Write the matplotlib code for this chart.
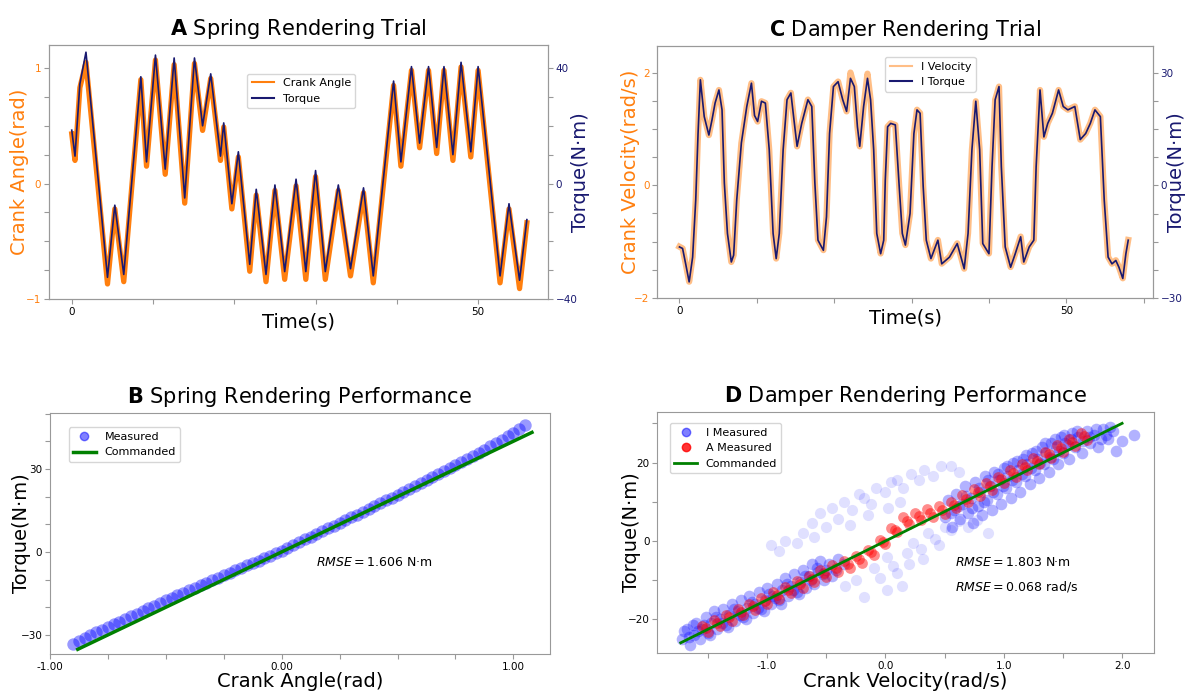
import matplotlib
matplotlib.use('Agg')
import matplotlib.pyplot as plt
from matplotlib.ticker import FixedLocator, MultipleLocator, FormatStrFormatter
from matplotlib.lines import Line2D

# ---- A: spring rendering trial (peaks / troughs) ----
time_a = [0.0, 0.4, 1.0, 1.75, 4.4, 5.3, 6.4, 8.5, 9.2, 10.3, 11.5, 12.6, 13.9, 15.1,
          16.1, 17.1, 18.3, 18.7, 19.7, 20.5, 21.9, 22.7, 23.9, 25.0, 26.2, 27.6, 28.8,
          30.0, 31.2, 32.8, 34.3, 35.9, 37.1, 39.6, 40.5, 41.8, 42.8, 43.9, 44.9, 45.8,
          46.9, 47.9, 49.1, 50.0, 52.7, 53.8, 55.1, 56.0]
angle_a = [0.43, 0.20, 0.83, 1.05, -0.87, -0.22, -0.85, 0.90, 0.15, 1.07, 0.08, 1.03, -0.17,
           1.04, 0.46, 0.91, 0.20, 0.49, -0.22, 0.23, -0.76, -0.10, -0.85, -0.06, -0.83,
           -0.02, -0.83, 0.06, -0.83, -0.06, -0.80, -0.08, -0.86, 0.85, 0.15, 0.98, 0.31,
           0.98, 0.26, 0.98, 0.20, 1.01, 0.23, 0.98, -0.86, -0.22, -0.91, -0.34]
torque_a = [18.5, 9.5, 34.5, 45.5, -32.5, -7.5, -31.5, 37.0, 7.5, 44.5, 5.0, 43.5, -5.0,
            43.5, 20.0, 38.0, 9.5, 21.0, -7.0, 11.0, -28.0, -2.0, -31.5, -0.5, -30.5,
            1.5, -30.5, 4.5, -30.5, -0.5, -29.5, -1.5, -32.0, 35.5, 7.5, 40.5, 14.0,
            40.5, 12.5, 40.5, 10.0, 42.0, 11.0, 40.5, -32.0, -7.0, -33.5, -12.5]

# ---- C: damper rendering trial ----
time_c = [0.0, 0.4, 0.8, 1.25, 1.7, 2.1, 2.4, 2.7, 3.2, 3.8,
          4.2, 4.6, 5.1, 5.5, 5.8, 6.2, 6.7, 7.0, 7.4, 8.0,
          8.7, 9.3, 9.7, 10.1, 10.6, 11.1, 11.6, 12.1, 12.5, 12.9,
          13.4, 13.9, 14.4, 14.8, 15.2, 15.8, 16.6, 17.1, 17.5, 17.9,
          18.6, 19.0, 19.4, 19.9, 20.5, 21.1, 21.6, 22.1, 22.6, 23.0,
          23.3, 23.8, 24.3, 24.7, 25.1, 25.5, 26.0, 26.4, 26.6, 26.9,
          27.3, 27.9, 28.4, 28.8, 29.2, 29.8, 30.3, 30.7, 31.1, 31.5,
          31.9, 32.5, 33.4, 33.9, 34.9, 35.9, 36.8, 37.3, 37.8, 38.3,
          38.8, 39.2, 40.0, 40.4, 40.8, 41.3, 41.6, 42.1, 42.8, 43.4,
          44.1, 44.5, 45.2, 45.8, 46.1, 46.6, 47.1, 47.6, 48.2, 49.0,
          49.6, 50.2, 51.1, 51.8, 52.5, 53.1, 53.7, 54.4, 54.9, 55.4,
          55.9, 56.4, 56.8, 57.3, 57.7, 58.0]
vel_c = [-1.09, -1.12, -1.39, -1.71, -1.27, -0.26, 0.92, 1.87, 1.22, 0.89,
         1.16, 1.46, 1.69, 1.34, 0.04, -0.85, -1.36, -1.24, -0.26, 0.75,
         1.40, 1.81, 1.24, 1.13, 1.49, 1.46, 0.63, -0.85, -1.30, -0.85,
         0.63, 1.52, 1.64, 1.16, 0.69, 1.10, 1.52, 1.40, 0.04, -0.97,
         -1.15, -0.56, 0.92, 1.75, 1.84, 1.52, 1.31, 2.00, 1.75, 1.04,
         0.69, 1.40, 1.98, 1.52, 0.63, -0.85, -1.21, -0.97, 0.09, 1.04,
         1.10, 1.07, -0.02, -0.85, -1.06, -0.50, 0.92, 1.34, 1.28, -0.02,
         -0.97, -1.30, -0.97, -1.39, -1.27, -1.03, -1.48, -0.85, 0.63, 1.49,
         0.63, -1.03, -1.21, 0.33, 1.52, 1.75, 0.33, -1.09, -1.45, -1.21,
         -0.91, -1.36, -1.09, -0.97, 0.33, 1.69, 0.86, 1.10, 1.28, 1.69,
         1.40, 1.34, 1.40, 0.81, 0.92, 1.10, 1.34, 1.22, -0.26, -1.27,
         -1.39, -1.33, -1.45, -1.65, -1.21, -0.97]
torque_c = [-16.4, -16.8, -20.9, -25.7, -19.1, -3.9, 13.8, 28.1, 18.3, 13.4,
            17.4, 21.9, 25.4, 20.1, 0.6, -12.8, -20.4, -18.6, -3.9, 11.3,
            21.0, 27.2, 18.6, 17.0, 22.4, 21.9, 9.5, -12.8, -19.5, -12.8,
            9.5, 22.8, 24.6, 17.4, 10.4, 16.5, 22.8, 21.0, 0.6, -14.6,
            -17.3, -8.4, 13.8, 26.3, 27.6, 22.8, 19.7, 28.5, 26.3, 15.6,
            10.4, 21.0, 28.5, 22.8, 9.5, -12.8, -18.2, -14.6, 1.4, 15.6,
            16.5, 16.1, -0.3, -12.8, -15.9, -7.5, 13.8, 20.1, 19.2, -0.3,
            -14.6, -19.5, -14.6, -20.9, -19.1, -15.5, -22.2, -12.8, 9.5, 22.4,
            9.5, -15.5, -18.2, 5.0, 22.8, 26.3, 5.0, -16.4, -21.8, -18.2,
            -13.7, -20.4, -16.4, -14.6, 5.0, 25.4, 12.9, 16.5, 19.2, 25.4,
            21.0, 20.1, 21.0, 12.2, 13.8, 16.5, 20.1, 18.3, -3.9, -19.1,
            -20.9, -20.0, -21.8, -24.8, -18.2, -14.6]

# ---- B: spring performance (measured cloud + commanded line) ----
angle_b = [-0.900, -0.875, -0.850, -0.825, -0.800, -0.775, -0.750, -0.725, -0.700, -0.675,
           -0.650, -0.625, -0.600, -0.575, -0.550, -0.525, -0.500, -0.475, -0.450, -0.425,
           -0.400, -0.375, -0.350, -0.325, -0.300, -0.275, -0.250, -0.225, -0.200, -0.175,
           -0.150, -0.125, -0.100, -0.075, -0.050, -0.025, 0.000, 0.025, 0.050, 0.075,
           0.100, 0.125, 0.150, 0.175, 0.200, 0.225, 0.250, 0.275, 0.300, 0.325,
           0.350, 0.375, 0.400, 0.425, 0.450, 0.475, 0.500, 0.525, 0.550, 0.575,
           0.600, 0.625, 0.650, 0.675, 0.700, 0.725, 0.750, 0.775, 0.800, 0.825,
           0.850, 0.875, 0.900, 0.925, 0.950, 0.975, 1.000, 1.025, 1.050]
torque_b = [-33.2, -32.2, -31.1, -30.1, -29.1, -28.1, -27.1, -26.2, -25.2, -24.2,
            -23.2, -22.3, -21.3, -20.3, -19.4, -18.4, -17.5, -16.6, -15.7, -14.8,
            -13.9, -13.0, -12.1, -11.2, -10.3, -9.4, -8.5, -7.6, -6.7, -5.8,
            -4.9, -4.0, -3.1, -2.2, -1.3, -0.4, 0.5, 1.5, 2.5, 3.5,
            4.5, 5.5, 6.5, 7.5, 8.5, 9.5, 10.5, 11.5, 12.5, 13.5,
            14.5, 15.5, 16.5, 17.5, 18.6, 19.6, 20.7, 21.7, 22.8, 23.8,
            24.9, 25.9, 27.0, 28.0, 29.1, 30.2, 31.3, 32.4, 33.5, 34.6,
            35.7, 36.9, 38.1, 39.3, 40.5, 41.8, 43.1, 44.5, 46.0]
cmd_angle_b = [-0.88, 1.08]
cmd_torque_b = [-35.2, 43.2]

# ---- D: damper performance ----
# I measured: the two dense bands along the commanded line
i_band = [
    (-1.72, -25.0), (-1.68, -22.5), (-1.65, -26.5), (-1.62, -24.0), (-1.60, -21.0),
    (-1.57, -25.0), (-1.55, -22.5), (-1.52, -19.5), (-1.50, -23.5), (-1.47, -21.0),
    (-1.45, -18.0), (-1.42, -22.5), (-1.40, -20.0), (-1.37, -17.5), (-1.35, -21.5),
    (-1.32, -19.0), (-1.30, -16.0), (-1.27, -20.5), (-1.25, -18.0), (-1.22, -15.0),
    (-1.20, -19.5), (-1.17, -17.0), (-1.15, -14.0), (-1.12, -18.5), (-1.10, -16.0),
    (-1.07, -13.0), (-1.05, -17.5), (-1.02, -15.0), (-1.00, -12.0), (-0.97, -16.0),
    (-0.95, -14.0), (-0.92, -11.0), (-0.90, -15.0), (-0.87, -12.5), (-0.85, -9.5),
    (-0.82, -14.0), (-0.80, -11.5), (-0.77, -8.5), (-0.75, -13.0), (-0.72, -10.5),
    (-0.70, -7.5), (-0.67, -12.0), (-0.65, -9.0), (-0.62, -6.0), (-0.60, -11.0),
    (-0.57, -8.0), (-0.55, -5.0), (-0.52, -10.0), (-0.50, -7.5),
    (-1.70, -23.0), (-1.66, -24.5), (-1.63, -21.5), (-1.58, -23.0), (-1.53, -21.5),
    (-1.48, -24.0), (-1.43, -19.5), (-1.38, -21.0), (-1.33, -22.0), (-1.28, -17.5),
    (-1.23, -19.0), (-1.18, -20.0), (-1.13, -15.5), (-1.08, -17.0), (-1.03, -18.0),
    (-0.98, -13.5), (-0.93, -14.5), (-0.88, -16.0), (-0.83, -11.0), (-0.78, -12.5),
    (-0.73, -13.5), (-0.68, -9.0), (-0.63, -10.0), (-0.58, -7.0), (-0.53, -8.5),
    (-0.48, -6.0), (-0.45, -9.0), (-0.40, -4.5), (-0.42, -7.5), (-0.35, -6.0),
    (0.50, 6.0), (0.53, 10.5), (0.56, 3.5), (0.58, 8.0), (0.60, 12.0), (0.63, 5.5),
    (0.65, 9.5), (0.67, 14.0), (0.70, 7.0), (0.72, 11.0), (0.74, 4.5), (0.76, 15.0),
    (0.78, 9.0), (0.80, 12.5), (0.82, 6.5), (0.84, 16.5), (0.86, 10.5), (0.88, 14.0),
    (0.90, 8.0), (0.92, 17.5), (0.94, 12.0), (0.96, 15.5), (0.98, 9.5), (1.00, 18.5),
    (1.02, 13.5), (1.04, 16.5), (1.06, 11.0), (1.08, 20.0), (1.10, 15.0), (1.12, 18.0),
    (1.14, 12.5), (1.16, 21.0), (1.18, 16.5), (1.20, 19.5), (1.22, 14.5), (1.24, 22.5),
    (1.26, 18.0), (1.28, 21.0), (1.30, 16.0), (1.32, 24.0), (1.34, 19.5), (1.36, 22.5),
    (1.38, 17.5), (1.40, 25.0), (1.42, 21.0), (1.44, 24.0), (1.46, 19.5), (1.48, 26.5),
    (1.50, 22.5), (1.52, 25.0), (1.55, 21.0), (1.58, 27.5), (1.60, 24.0), (1.63, 26.5),
    (1.66, 22.5), (1.70, 28.0), (1.73, 25.0), (1.76, 27.0), (1.80, 24.0), (1.84, 28.5),
    (1.88, 26.0), (1.92, 28.0), (2.00, 25.5), (2.10, 27.0), (1.95, 23.0),
    (0.55, 7.0), (0.62, 9.0), (0.68, 11.5), (0.73, 8.5), (0.79, 13.5), (0.83, 10.0),
    (0.87, 15.5), (0.91, 12.5), (0.95, 17.0), (0.99, 14.0), (1.03, 19.0), (1.07, 15.5),
    (1.11, 20.5), (1.15, 17.0), (1.19, 22.0), (1.23, 18.5), (1.27, 23.0), (1.31, 20.0),
    (1.35, 25.0), (1.39, 21.5), (1.43, 26.0), (1.47, 23.0), (1.51, 27.0), (1.54, 24.5),
    (1.57, 26.0), (1.62, 28.0), (1.67, 25.5), (1.72, 26.5), (1.78, 28.5), (1.86, 27.0),
    (1.90, 29.0), (1.82, 26.0),
]
# I measured: faint hysteresis loops round the middle
i_loop = [
    (-0.97, -1.0), (-0.90, -2.5), (-0.85, 0.0), (-0.75, -0.5), (-0.70, 2.0), (-0.62, 4.5),
    (-0.55, 7.0), (-0.50, 3.5), (-0.45, 8.5), (-0.40, 5.5), (-0.35, 10.0), (-0.28, 8.0),
    (-0.22, 12.0), (-0.18, 11.0), (-0.12, 9.5), (-0.08, 13.5), (0.00, 12.5), (0.05, 15.0),
    (0.10, 15.5), (0.15, 13.5), (0.22, 17.0), (0.28, 15.5), (0.33, 18.0), (0.40, 16.5),
    (0.47, 19.0), (0.55, 19.0), (0.62, 17.5), (-0.60, 1.0), (-0.30, 4.0), (-0.15, 6.5),
    (0.02, 8.5), (0.12, 10.0),
    (0.01, -4.0), (0.06, -6.5), (0.10, -8.2), (0.14, -11.6), (0.01, -12.5), (-0.05, -9.5),
    (0.18, -3.0), (0.23, -0.6), (0.30, -2.0), (0.36, 2.0), (0.42, 0.5), (0.50, 3.5),
    (0.55, 2.8), (0.62, 5.0), (0.70, 3.5), (0.77, 5.3), (0.87, 2.0), (-0.18, -14.2),
    (-0.25, -10.0), (-0.34, -11.6), (-0.10, -7.0), (0.20, -6.0), (0.32, -4.5), (0.45, -1.0),
]
a_vel = [-1.55, -1.50, -1.45, -1.40, -1.35, -1.30, -1.25, -1.20, -1.15, -1.10,
         -1.05, -1.00, -0.95, -0.90, -0.85, -0.80, -0.75, -0.70, -0.65, -0.60,
         -0.55, -0.50, -0.45, -0.40, -0.35, -0.30, -0.25, -0.20, -0.15, -0.10,
         -0.05, 0.00, 0.05, 0.10, 0.15, 0.20, 0.25, 0.30, 0.35, 0.40,
         0.45, 0.50, 0.55, 0.60, 0.65, 0.70, 0.75, 0.80, 0.85, 0.90,
         0.95, 1.00, 1.05, 1.10, 1.15, 1.20, 1.25, 1.30, 1.35, 1.40,
         1.45, 1.50, 1.55, 1.60, 1.65, 1.70,
         -1.52, -1.42, -1.32, -1.22, -1.12, -1.02, -0.92, -0.82, -0.72, -0.62,
         -0.52, -0.42, -0.32, -0.22, -0.12, -0.02, 0.08, 0.18, 0.28, 0.38,
         0.48, 0.58, 0.68, 0.78, 0.88, 0.98, 1.08, 1.18, 1.28, 1.38,
         1.48, 1.58, 1.68]
a_torque = [-21.6, -23.2, -20.2, -21.8, -18.8, -20.4, -17.4, -19.0, -16.0, -17.6,
            -14.6, -16.2, -13.1, -14.8, -11.7, -13.4, -10.3, -12.0, -8.9, -10.6,
            -7.5, -9.2, -6.2, -8.0, -5.1, -6.9, -3.9, -5.7, -2.3, -3.5,
            0.2, -0.9, 3.2, 2.3, 6.0, 4.2, 7.2, 5.3, 8.1, 6.0,
            8.8, 6.8, 10.0, 8.3, 11.6, 9.9, 13.2, 11.5, 14.8, 13.1,
            16.4, 14.8, 18.0, 16.4, 19.6, 18.0, 21.2, 19.6, 22.8, 21.2,
            24.4, 22.8, 26.0, 24.3, 27.5, 25.8,
            -22.3, -20.9, -19.5, -18.1, -16.7, -15.3, -13.9, -12.5, -11.1, -9.7,
            -8.3, -7.0, -5.9, -4.7, -2.8, -0.2, 2.9, 5.1, 6.3, 7.1,
            7.8, 9.2, 10.8, 12.4, 14.0, 15.7, 17.3, 18.9, 20.5, 22.1,
            23.7, 25.2, 26.7]
cmd_vel_d = [-1.73, 2.0]
cmd_torque_d = [-26.0, 30.0]

ORANGE = '#ff7f0e'
NAVY = '#191970'
GREY = '0.6'


def style(ax, twin=None):
    for a in [ax] + ([twin] if twin is not None else []):
        for sp in a.spines.values():
            sp.set_color(GREY)
        a.tick_params(which='both', length=3.5, width=0.8, color=GREY,
                      labelsize=7.5, pad=2)


def ticks(axis, major, minor, fmt=None):
    axis.set_major_locator(FixedLocator(major))
    axis.set_minor_locator(MultipleLocator(minor))
    if fmt:
        axis.set_major_formatter(FormatStrFormatter(fmt))


fig = plt.figure(figsize=(11.89, 6.91), dpi=100)

# A
ax = fig.add_axes([0.0412, 0.5673, 0.4197, 0.3676])
ax2 = ax.twinx()
ax.plot(time_a, angle_a, color=ORANGE, lw=3.8, solid_joinstyle='round')
ax2.plot(time_a, torque_a, color=NAVY, lw=1.2)
ax.set_xlim(-2.8, 58.6)
ax.set_ylim(-1, 1.2)
ax2.set_ylim(-40, 48)
ticks(ax.xaxis, [0, 50], 10)
ticks(ax.yaxis, [-1, 0, 1], 0.25)
ticks(ax2.yaxis, [-40, 0, 40], 10)
style(ax, ax2)
ax.tick_params(axis='y', labelcolor=ORANGE)
ax2.tick_params(axis='y', labelcolor=NAVY)
ax.set_xlabel('Time(s)', fontsize=14)
ax.xaxis.set_label_coords(0.5, -0.055)
ax.set_ylabel('Crank Angle(rad)', fontsize=14, color=ORANGE)
ax.yaxis.set_label_coords(-0.04, 0.5)
ax2.set_ylabel('Torque(N·m)', fontsize=14, color=NAVY)
ax2.yaxis.set_label_coords(1.046, 0.5)
ax.set_title(r'$\bf{A}$ Spring Rendering Trial', fontsize=15, pad=7)
ax2.legend([Line2D([], [], color=ORANGE, lw=1.5), Line2D([], [], color=NAVY, lw=1.5)],
           ['Crank Angle', 'Torque'], loc='upper left',
           bbox_to_anchor=(0.397, 0.886), borderaxespad=0, fontsize=8)

# C
ax = fig.add_axes([0.5526, 0.5687, 0.4171, 0.3647])
ax2 = ax.twinx()
ax.plot(time_c, vel_c, color=ORANGE, alpha=0.5, lw=4.5, solid_joinstyle='round')
ax2.plot(time_c, torque_c, color=NAVY, lw=1.2)
ax.set_xlim(-2.9, 61.2)
ax.set_ylim(-2, 2.47)
ax2.set_ylim(-30, 37.1)
ticks(ax.xaxis, [0, 50], 10)
ticks(ax.yaxis, [-2, 0, 2], 0.5)
ticks(ax2.yaxis, [-30, 0, 30], 7.5)
style(ax, ax2)
ax.tick_params(axis='y', labelcolor=ORANGE)
ax2.tick_params(axis='y', labelcolor=NAVY)
ax.set_xlabel('Time(s)', fontsize=14)
ax.xaxis.set_label_coords(0.5, -0.04)
ax.set_ylabel('Crank Velocity(rad/s)', fontsize=14, color=ORANGE)
ax.yaxis.set_label_coords(-0.034, 0.5)
ax2.set_ylabel('Torque(N·m)', fontsize=14, color=NAVY)
ax2.yaxis.set_label_coords(1.028, 0.5)
ax.set_title(r'$\bf{C}$ Damper Rendering Trial', fontsize=15, pad=7)
ax2.legend([Line2D([], [], color=ORANGE, alpha=0.5, lw=1.5),
            Line2D([], [], color=NAVY, lw=1.5)],
           ['I Velocity', 'I Torque'], loc='upper left',
           bbox_to_anchor=(0.46, 0.956), borderaxespad=0, fontsize=8)

# B
ax = fig.add_axes([0.042, 0.0535, 0.4206, 0.3488])
ax.scatter(angle_b, torque_b, s=80, color='blue', alpha=0.4, linewidths=0)
ax.plot(cmd_angle_b, cmd_torque_b, color='green', lw=2.5)
ax.set_xlim(-1.0, 1.158)
ax.set_ylim(-36.9, 50.2)
ticks(ax.xaxis, [-1, 0, 1], 0.25, '%.2f')
ticks(ax.yaxis, [-30, 0, 30], 10)
style(ax)
ax.text(0.15, -4, r'$RMSE = 1.606$ N·m', fontsize=9, va='center')
ax.set_xlabel('Crank Angle(rad)', fontsize=14)
ax.xaxis.set_label_coords(0.5, -0.075)
ax.set_ylabel('Torque(N·m)', fontsize=14)
ax.yaxis.set_label_coords(-0.037, 0.5)
ax.set_title(r'$\bf{B}$ Spring Rendering Performance', fontsize=15, pad=7)
ax.legend([Line2D([], [], ls='', marker='o', ms=6, color='blue', alpha=0.5),
           Line2D([], [], color='green', lw=2.5)],
          ['Measured', 'Commanded'], loc='upper left',
          bbox_to_anchor=(0.038, 0.94), borderaxespad=0, fontsize=8)

# D
ax = fig.add_axes([0.5526, 0.055, 0.418, 0.3488])
bv, bt = zip(*i_band)
lv, lt = zip(*i_loop)
ax.scatter(lv, lt, s=65, color='blue', alpha=0.12, linewidths=0)
ax.scatter(bv, bt, s=70, color='blue', alpha=0.3, linewidths=0)
ax.scatter(a_vel, a_torque, s=60, color='red', alpha=0.45, linewidths=0)
ax.plot(cmd_vel_d, cmd_torque_d, color='green', lw=2)
ax.set_xlim(-1.93, 2.27)
ax.set_ylim(-28.6, 32.9)
ticks(ax.xaxis, [-1, 0, 1, 2], 0.5, '%.1f')
ticks(ax.yaxis, [-20, 0, 20], 10)
style(ax)
ax.text(0.59, -5.6, r'$RMSE = 1.803$ N·m', fontsize=9, va='center')
ax.text(0.59, -11.7, r'$RMSE = 0.068$ rad/s', fontsize=9, va='center')
ax.set_xlabel('Crank Velocity(rad/s)', fontsize=14)
ax.xaxis.set_label_coords(0.5, -0.079)
ax.set_ylabel('Torque(N·m)', fontsize=14)
ax.yaxis.set_label_coords(-0.032, 0.5)
ax.set_title(r'$\bf{D}$ Damper Rendering Performance', fontsize=15, pad=7)
ax.legend([Line2D([], [], ls='', marker='o', ms=6, color='blue', alpha=0.5),
           Line2D([], [], ls='', marker='o', ms=6, color='red', alpha=0.8),
           Line2D([], [], color='green', lw=2)],
          ['I Measured', 'A Measured', 'Commanded'], loc='upper left',
          bbox_to_anchor=(0.026, 0.954), borderaxespad=0, fontsize=8)

fig.savefig('out.png', dpi=100)
